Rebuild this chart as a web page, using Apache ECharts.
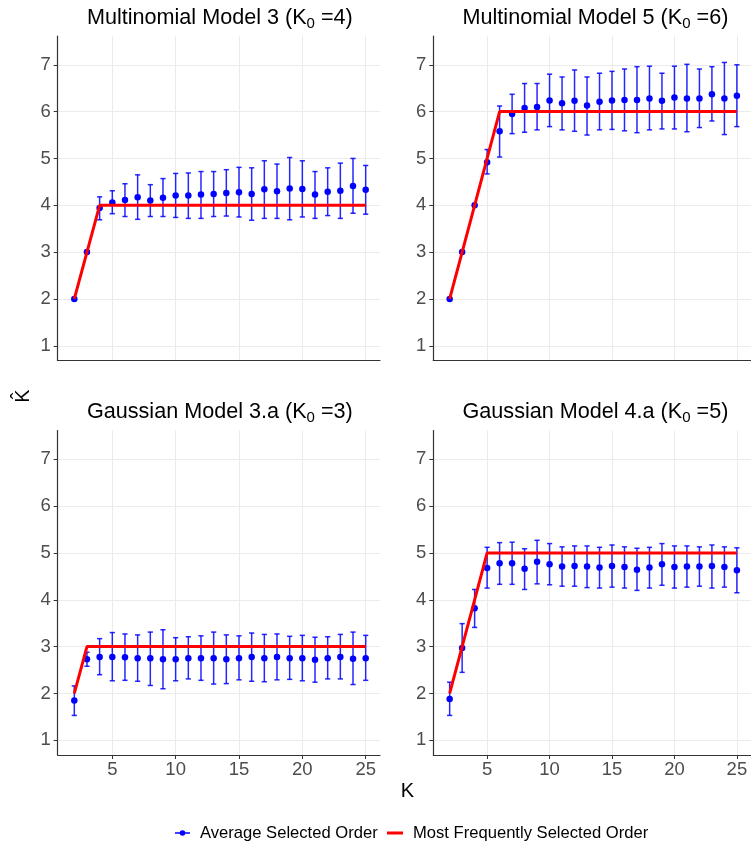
<!DOCTYPE html>
<html>
<head>
<meta charset="utf-8">
<script src="https://cdn.jsdelivr.net/npm/echarts@6/dist/echarts.min.js"></script>
<style>
  html, body { margin: 0; padding: 0; background: #fff; }
  #chart { width: 751px; height: 842px; }
</style>
</head>
<body>
<div id="chart"></div>
<script>
// K values on the x axis
const kValues = [2, 3, 4, 5, 6, 7, 8, 9, 10, 11, 12, 13, 14, 15, 16, 17, 18, 19, 20, 21, 22, 23, 24, 25];
const xTicks = [5, 10, 15, 20, 25];
const yTicks = [1, 2, 3, 4, 5, 6, 7];

// Multinomial Model 3 (K0 = 4)
const mult3Mean = [2, 3, 3.94, 4.06, 4.11, 4.17, 4.10, 4.16, 4.21, 4.21, 4.23, 4.24, 4.26, 4.28, 4.24, 4.34, 4.30, 4.36, 4.35, 4.23, 4.29, 4.31, 4.41, 4.33];
const mult3Lower = [null, null, 3.69, 3.82, 3.76, 3.70, 3.76, 3.76, 3.74, 3.72, 3.72, 3.76, 3.77, 3.75, 3.68, 3.72, 3.72, 3.69, 3.75, 3.72, 3.78, 3.72, 3.83, 3.81];
const mult3Upper = [null, null, 4.18, 4.31, 4.46, 4.65, 4.44, 4.57, 4.68, 4.69, 4.72, 4.72, 4.76, 4.81, 4.80, 4.95, 4.88, 5.02, 4.95, 4.72, 4.80, 4.90, 5.00, 4.85];
const mult3Mode = [2, 3, 4, 4, 4, 4, 4, 4, 4, 4, 4, 4, 4, 4, 4, 4, 4, 4, 4, 4, 4, 4, 4, 4];

// Multinomial Model 5 (K0 = 6)
const mult5Mean = [2, 3, 4, 4.92, 5.58, 5.95, 6.08, 6.10, 6.24, 6.18, 6.23, 6.13, 6.21, 6.24, 6.25, 6.25, 6.28, 6.23, 6.30, 6.28, 6.28, 6.37, 6.28, 6.34];
const mult5Lower = [null, null, null, 4.67, 5.03, 5.53, 5.56, 5.61, 5.68, 5.61, 5.58, 5.50, 5.61, 5.62, 5.59, 5.55, 5.61, 5.63, 5.63, 5.57, 5.66, 5.80, 5.51, 5.68];
const mult5Upper = [null, null, null, 5.19, 6.12, 6.37, 6.60, 6.60, 6.80, 6.74, 6.89, 6.74, 6.82, 6.86, 6.91, 6.96, 6.97, 6.82, 6.97, 7.01, 6.91, 6.96, 7.05, 7.00];
const mult5Mode = [2, 3, 4, 5, 6, 6, 6, 6, 6, 6, 6, 6, 6, 6, 6, 6, 6, 6, 6, 6, 6, 6, 6, 6];

// Gaussian Model 3.a (K0 = 3)
const gauss3Mean = [1.85, 2.73, 2.78, 2.78, 2.77, 2.75, 2.75, 2.73, 2.73, 2.75, 2.75, 2.75, 2.73, 2.75, 2.78, 2.75, 2.78, 2.75, 2.75, 2.72, 2.75, 2.78, 2.74, 2.75];
const gauss3Lower = [1.53, 2.58, 2.40, 2.27, 2.28, 2.26, 2.17, 2.10, 2.27, 2.31, 2.28, 2.20, 2.21, 2.29, 2.26, 2.25, 2.29, 2.30, 2.27, 2.24, 2.31, 2.31, 2.19, 2.28];
const gauss3Upper = [2.16, 2.88, 3.17, 3.30, 3.27, 3.25, 3.31, 3.36, 3.19, 3.21, 3.23, 3.31, 3.25, 3.23, 3.29, 3.26, 3.27, 3.22, 3.24, 3.20, 3.21, 3.26, 3.31, 3.24];
const gauss3Mode = [2, 3, 3, 3, 3, 3, 3, 3, 3, 3, 3, 3, 3, 3, 3, 3, 3, 3, 3, 3, 3, 3, 3, 3];

// Gaussian Model 4.a (K0 = 5)
const gauss4Mean = [1.88, 2.97, 3.82, 4.68, 4.78, 4.78, 4.66, 4.81, 4.76, 4.71, 4.72, 4.71, 4.69, 4.72, 4.70, 4.64, 4.69, 4.76, 4.70, 4.71, 4.71, 4.72, 4.70, 4.63];
const gauss4Lower = [1.53, 2.45, 3.41, 4.25, 4.33, 4.33, 4.22, 4.34, 4.32, 4.29, 4.29, 4.26, 4.25, 4.27, 4.25, 4.20, 4.25, 4.31, 4.25, 4.27, 4.29, 4.25, 4.27, 4.15];
const gauss4Upper = [2.24, 3.49, 4.22, 5.12, 5.22, 5.23, 5.09, 5.27, 5.20, 5.13, 5.15, 5.15, 5.12, 5.17, 5.13, 5.10, 5.12, 5.20, 5.15, 5.15, 5.13, 5.17, 5.13, 5.11];
const gauss4Mode = [2, 3, 4, 5, 5, 5, 5, 5, 5, 5, 5, 5, 5, 5, 5, 5, 5, 5, 5, 5, 5, 5, 5, 5];

const panels = [
  { name: 'Multinomial Model 3 (K', k0: '4', mean: mult3Mean, lower: mult3Lower, upper: mult3Upper, mode: mult3Mode },
  { name: 'Multinomial Model 5 (K', k0: '6', mean: mult5Mean, lower: mult5Lower, upper: mult5Upper, mode: mult5Mode },
  { name: 'Gaussian Model 3.a (K', k0: '3', mean: gauss3Mean, lower: gauss3Lower, upper: gauss3Upper, mode: gauss3Mode },
  { name: 'Gaussian Model 4.a (K', k0: '5', mean: gauss4Mean, lower: gauss4Lower, upper: gauss4Upper, mode: gauss4Mode },
];

const FONT = '"Liberation Sans", Arial, sans-serif';
const BLUE = '#0000FF';
const RED = '#FF0000';
const GRID_COLOR = '#EBEBEB';

// panel boxes (left, top) in px
const boxes = [
  { left: 57.7, top: 36 },
  { left: 433.3, top: 36 },
  { left: 57.7, top: 430.5 },
  { left: 433.3, top: 430.5 },
];
const boxW = 322.3;
const boxH = 324.5;

function errorBarItem(params, api) {
  const x = api.value(0);
  const top = api.coord([x, api.value(2)]);
  const bot = api.coord([x, api.value(1)]);
  const hw = 2.6;
  const st = { stroke: BLUE, lineWidth: 1.5, opacity: 0.85 };
  return {
    type: 'group',
    children: [
      { type: 'line', shape: { x1: top[0], y1: top[1], x2: bot[0], y2: bot[1] }, style: st },
      { type: 'line', shape: { x1: top[0] - hw, y1: top[1], x2: top[0] + hw, y2: top[1] }, style: st },
      { type: 'line', shape: { x1: bot[0] - hw, y1: bot[1], x2: bot[0] + hw, y2: bot[1] }, style: st },
    ],
  };
}

const grids = [];
const xAxes = [];
const yAxes = [];
const series = [];
const graphics = [];

panels.forEach((p, i) => {
  const bottomRow = i >= 2;
  grids.push({ left: boxes[i].left, top: boxes[i].top, width: boxW, height: boxH, containLabel: false });
  xAxes.push({
    type: 'value',
    gridIndex: i,
    min: 0.69,
    max: 26.13,
    axisLine: { show: true, onZero: false, lineStyle: { color: '#333', width: 1.2 } },
    axisTick: { show: bottomRow, length: 4, customValues: xTicks, lineStyle: { color: '#333' } },
    axisLabel: {
      show: bottomRow, customValues: xTicks, margin: 5,
      color: '#4D4D4D', fontSize: 18.5, fontFamily: FONT,
    },
    splitLine: { show: true, lineStyle: { color: GRID_COLOR, width: 1 } },
  });
  yAxes.push({
    type: 'value',
    gridIndex: i,
    min: 0.685,
    max: 7.615,
    axisLine: { show: true, onZero: false, lineStyle: { color: '#333', width: 1.2 } },
    axisTick: { show: true, length: 4, customValues: yTicks, lineStyle: { color: '#333' } },
    axisLabel: {
      customValues: yTicks, margin: 7,
      color: '#4D4D4D', fontSize: 18.5, fontFamily: FONT,
    },
    splitLine: { show: true, lineStyle: { color: GRID_COLOR, width: 1 } },
  });

  const bars = [];
  kValues.forEach((k, j) => {
    if (p.lower[j] !== null) bars.push([k, p.lower[j], p.upper[j]]);
  });
  series.push({
    type: 'custom',
    xAxisIndex: i,
    yAxisIndex: i,
    renderItem: errorBarItem,
    data: bars,
    z: 2,
    silent: true,
  });
  series.push({
    type: 'scatter',
    name: 'Average Selected Order',
    xAxisIndex: i,
    yAxisIndex: i,
    symbolSize: 6.5,
    itemStyle: { color: BLUE, opacity: 1 },
    data: kValues.map((k, j) => [k, p.mean[j]]),
    z: 3,
    silent: true,
  });
  series.push({
    type: 'line',
    name: 'Most Frequently Selected Order',
    xAxisIndex: i,
    yAxisIndex: i,
    showSymbol: false,
    lineStyle: { color: RED, width: 3 },
    data: kValues.map((k, j) => [k, p.mode[j]]),
    z: 4,
    silent: true,
  });

  graphics.push({
    type: 'text',
    x: boxes[i].left + boxW / 2 + 1,
    y: boxes[i].top - 18,
    style: {
      text: '{a|' + p.name + '}{s|0}{a| =' + p.k0 + ')}',
      align: 'center',
      verticalAlign: 'middle',
      rich: {
        a: { fontSize: 21.6, fontFamily: FONT, fill: '#000', lineHeight: 26, verticalAlign: 'middle' },
        s: { fontSize: 15, fontFamily: FONT, fill: '#000', lineHeight: 11, verticalAlign: 'bottom' },
      },
    },
  });
});

// axis titles
graphics.push({
  type: 'text',
  x: 407.5,
  y: 791,
  style: { text: 'K', fontSize: 20, fontFamily: FONT, fill: '#000', align: 'center', verticalAlign: 'middle' },
});
graphics.push({
  type: 'text',
  x: 23,
  y: 396,
  rotation: Math.PI / 2,
  style: { text: 'K\u0302', fontSize: 20, fontFamily: FONT, fill: '#000', align: 'center', verticalAlign: 'middle' },
});

// legend
graphics.push(
  { type: 'line', shape: { x1: 175, y1: 833, x2: 190, y2: 833 }, style: { stroke: BLUE, lineWidth: 1.5 } },
  { type: 'circle', shape: { cx: 182.5, cy: 833, r: 2.8 }, style: { fill: BLUE } },
  { type: 'text', x: 200, y: 833, style: { text: 'Average Selected Order', fontSize: 16.6, fontFamily: FONT, fill: '#000', verticalAlign: 'middle' } },
  { type: 'line', shape: { x1: 387, y1: 833, x2: 403, y2: 833 }, style: { stroke: RED, lineWidth: 3 } },
  { type: 'text', x: 413, y: 833, style: { text: 'Most Frequently Selected Order', fontSize: 16.6, fontFamily: FONT, fill: '#000', verticalAlign: 'middle' } }
);

const myChart = echarts.init(document.getElementById('chart'), null, { renderer: 'canvas' });
myChart.setOption({
  animation: false,
  backgroundColor: '#fff',
  grid: grids,
  xAxis: xAxes,
  yAxis: yAxes,
  series,
  graphic: graphics,
});
</script>
</body>
</html>
